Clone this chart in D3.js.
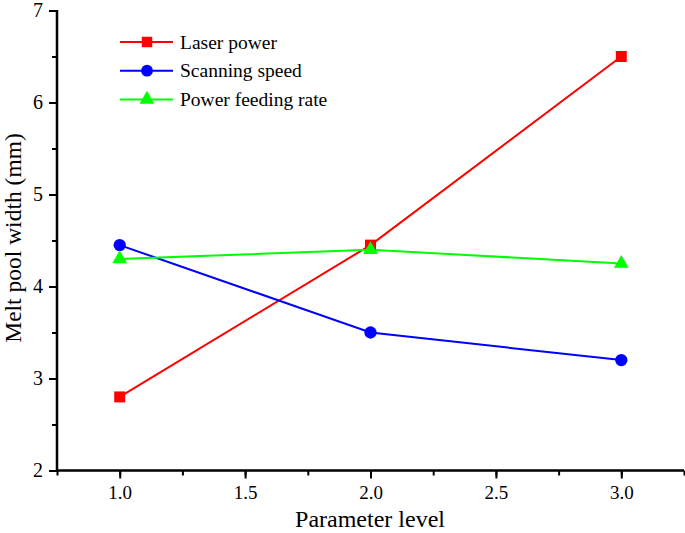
<!DOCTYPE html>
<html>
<head>
<meta charset="utf-8">
<script src="https://cdn.jsdelivr.net/npm/d3@7"></script>
<style>
  body { margin: 0; background: #fff; }
  text { font-family: "Liberation Serif", "Times New Roman", serif; }
</style>
</head>
<body>
<svg id="chart" width="685" height="533"></svg>
<script>
const levels = [1, 2, 3];
const laserPower = [2.8, 4.45, 6.5];
const scanningSpeed = [4.45, 3.5, 3.2];
const feedingRate = [4.3, 4.4, 4.25];
const xTicks = [1.0, 1.5, 2.0, 2.5, 3.0];
const yTicks = [2, 3, 4, 5, 6, 7];

const series = [
  { name: 'Laser power', values: laserPower, color: '#ff0000', symbol: d3.symbolSquare },
  { name: 'Scanning speed', values: scanningSpeed, color: '#0000ff', symbol: d3.symbolCircle },
  { name: 'Power feeding rate', values: feedingRate, color: '#00ff00', symbol: d3.symbolTriangle }
];

const svg = d3.select('#chart');

const x = d3.scaleLinear().domain([0.75, 3.25]).range([57, 684]);
const y = d3.scaleLinear().domain([2, 7]).range([470.5, 10.5]);

// minor ticks first
svg.append('g')
  .attr('transform', 'translate(0,470.5)')
  .call(d3.axisBottom(x).tickValues(d3.range(0.75, 3.26, 0.25)).tickSize(5).tickFormat(''))
  .call(g => g.select('.domain').remove())
  .selectAll('line').attr('stroke-width', 2);

svg.append('g')
  .attr('transform', 'translate(57,0)')
  .call(d3.axisLeft(y).tickValues(d3.range(2, 7.01, 0.5)).tickSize(5).tickFormat(''))
  .call(g => g.select('.domain').remove())
  .selectAll('line').attr('stroke-width', 2);

const xAxis = svg.append('g')
  .attr('transform', 'translate(0,470.5)')
  .call(d3.axisBottom(x).tickValues(xTicks).tickSize(8).tickPadding(7).tickFormat(d3.format('.1f')));
xAxis.select('.domain').attr('d', 'M56,0H684').attr('stroke-width', 2.5);
xAxis.selectAll('line').attr('stroke-width', 2);
xAxis.selectAll('text').attr('font-size', 19);

const yAxis = svg.append('g')
  .attr('transform', 'translate(57,0)')
  .call(d3.axisLeft(y).tickValues(yTicks).tickSize(8).tickPadding(6).tickFormat(d3.format('d')));
yAxis.select('.domain').attr('d', 'M0,471.5V10').attr('stroke-width', 2.5);
yAxis.selectAll('line').attr('stroke-width', 2);
yAxis.selectAll('text').attr('font-size', 20);

svg.append('text')
  .attr('x', 370).attr('y', 527)
  .attr('text-anchor', 'middle')
  .attr('font-size', 24)
  .text('Parameter level');

svg.append('text')
  .attr('transform', 'translate(21,238) rotate(-90)')
  .attr('text-anchor', 'middle')
  .attr('font-size', 23.5)
  .text('Melt pool width (mm)');

const line = d3.line().x((d, i) => x(levels[i])).y(d => y(d));

series.forEach(s => {
  svg.append('path')
    .attr('d', line(s.values))
    .attr('fill', 'none')
    .attr('stroke', s.color)
    .attr('stroke-width', 2);
});

series.forEach(s => {
  svg.append('g').selectAll('path')
    .data(s.values)
    .join('path')
    .attr('transform', (d, i) => `translate(${x(levels[i])},${y(d)})`)
    .attr('d', d3.symbol().type(s.symbol).size(s.symbol === d3.symbolTriangle ? 95 : 120))
    .attr('fill', s.color);
});

const legend = svg.append('g');
series.forEach((s, i) => {
  const ly = 42 + i * 28.7;
  legend.append('line')
    .attr('x1', 120).attr('x2', 173).attr('y1', ly).attr('y2', ly)
    .attr('stroke', s.color).attr('stroke-width', 2);
  legend.append('path')
    .attr('transform', `translate(147,${ly})`)
    .attr('d', d3.symbol().type(s.symbol).size(s.symbol === d3.symbolTriangle ? 95 : 110))
    .attr('fill', s.color);
  legend.append('text')
    .attr('x', 180).attr('y', ly + 6.5)
    .attr('font-size', 19.5)
    .text(s.name);
});
</script>
</body>
</html>
